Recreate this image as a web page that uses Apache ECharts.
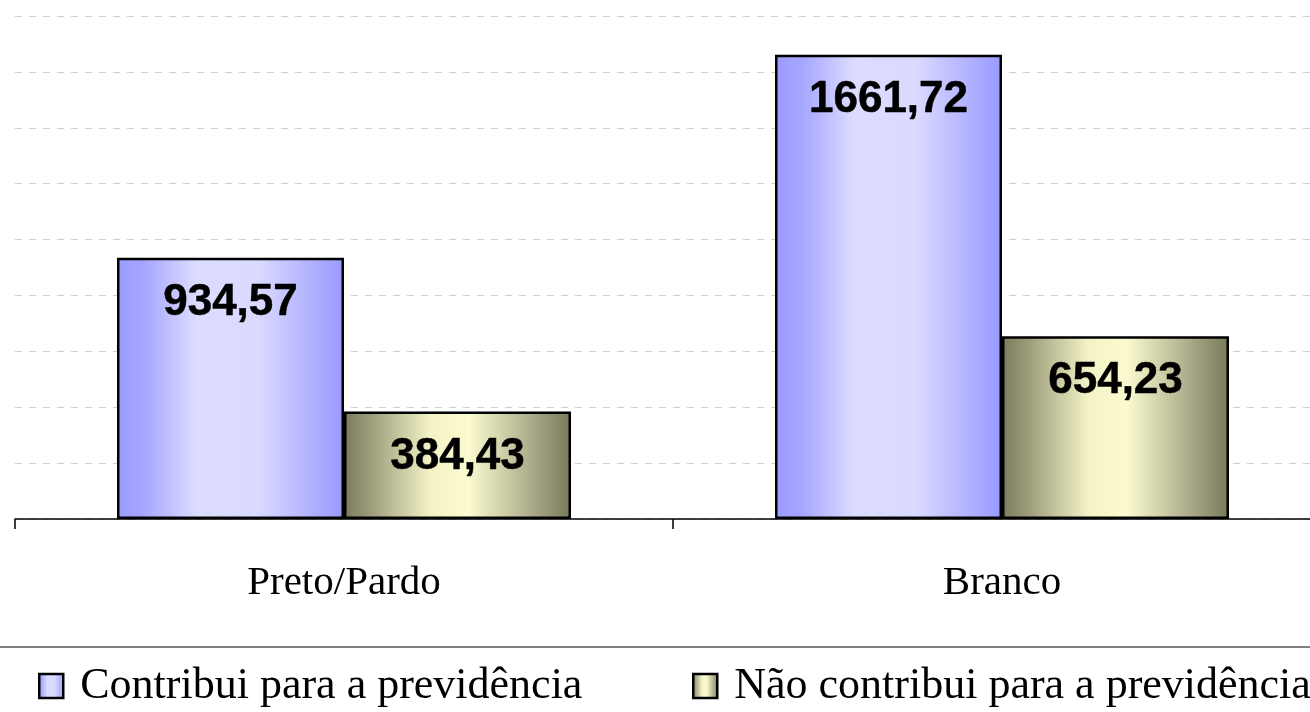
<!DOCTYPE html>
<html>
<head>
<meta charset="utf-8">
<script src="https://cdn.jsdelivr.net/npm/echarts@6/dist/echarts.min.js"></script>
<style>
  html, body { margin: 0; padding: 0; background: #fff; }
  #main { width: 1310px; height: 712px; }
</style>
</head>
<body>
<div id="main"></div>
<script>
// categories and values (R$)
var categories = ['Preto/Pardo', 'Branco']
var contribui = [934.57, 1661.72]
var naoContribui = [384.43, 654.23]
var seriesNames = ['Contribui para a previdência', 'Não contribui para a previdência']

function fmt(v) {
    return v.toFixed(2).replace('.', ',')
}

// horizontal shading like the old office charts
var blueFill = new echarts.graphic.LinearGradient(0, 0, 1, 0, [
    { offset: 0, color: '#9b9bff' },
    { offset: 0.12, color: '#a6a6ff' },
    { offset: 0.35, color: '#dcdcff' },
    { offset: 0.62, color: '#dadaff' },
    { offset: 0.85, color: '#b2b2ff' },
    { offset: 1, color: '#9999ff' }
])
var oliveFill = new echarts.graphic.LinearGradient(0, 0, 1, 0, [
    { offset: 0, color: '#7a7a5e' },
    { offset: 0.14, color: '#a4a482' },
    { offset: 0.38, color: '#f3f3c6' },
    { offset: 0.55, color: '#fbfbcf' },
    { offset: 0.82, color: '#adad8c' },
    { offset: 1, color: '#78785c' }
])

var labelStyle = {
    show: true,
    position: 'insideTop',
    distance: 23,
    fontFamily: 'Liberation Sans, Arial',
    fontWeight: 'bold',
    fontSize: 44,
    color: '#000',
    textBorderColor: '#000',
    textBorderWidth: 0.5,
    formatter: function (p) { return fmt(p.value) }
}

// one legend per item so the second one can run off the edge
function legendAt(left, name) {
    return {
        left: left,
        top: 664,
        padding: 0,
        itemWidth: 24,
        itemHeight: 24,
        icon: 'rect',
        itemStyle: { borderColor: '#000', borderWidth: 2.5 },
        textStyle: {
            fontFamily: 'Liberation Serif, Times New Roman',
            fontSize: 44,
            color: '#000',
            padding: [0, 0, 0, 12]
        },
        data: [name]
    }
}

var chart = echarts.init(document.getElementById('main'), null, { renderer: 'canvas' })
chart.setOption({
    animation: false,
    backgroundColor: '#fff',
    // plot runs a bit past the right edge, like the original
    grid: { left: 15, width: 1316, top: 16, bottom: 193, containLabel: false, outerBoundsMode: 'none' },
    xAxis: {
        type: 'category',
        data: categories,
        axisLine: { lineStyle: { color: '#000', width: 1.5 } },
        axisTick: { show: true, length: 10, lineStyle: { color: '#000', width: 1.5 } },
        axisLabel: {
            fontFamily: 'Liberation Serif, Times New Roman',
            fontSize: 41,
            color: '#000',
            margin: 44
        }
    },
    yAxis: {
        type: 'value',
        min: 0,
        max: 1800,
        interval: 200,
        axisLine: { show: false },
        axisTick: { show: false },
        axisLabel: { show: false },
        splitLine: { lineStyle: { color: '#d0d0d0', type: [7, 7], width: 1 } }
    },
    legend: [legendAt(38, seriesNames[0]), legendAt(692, seriesNames[1])],
    graphic: [{
        type: 'line',
        shape: { x1: 0, y1: 647, x2: 1310, y2: 647 },
        style: { stroke: '#808080', lineWidth: 2 }
    }],
    series: [{
        name: seriesNames[0],
        type: 'bar',
        data: contribui,
        barGap: '0%',
        barCategoryGap: '31%',
        itemStyle: { color: blueFill, borderColor: '#000', borderWidth: 2.5 },
        label: labelStyle
    }, {
        name: seriesNames[1],
        type: 'bar',
        data: naoContribui,
        barGap: '0%',
        barCategoryGap: '31%',
        itemStyle: { color: oliveFill, borderColor: '#000', borderWidth: 2.5 },
        label: labelStyle
    }]
})
</script>
</body>
</html>
